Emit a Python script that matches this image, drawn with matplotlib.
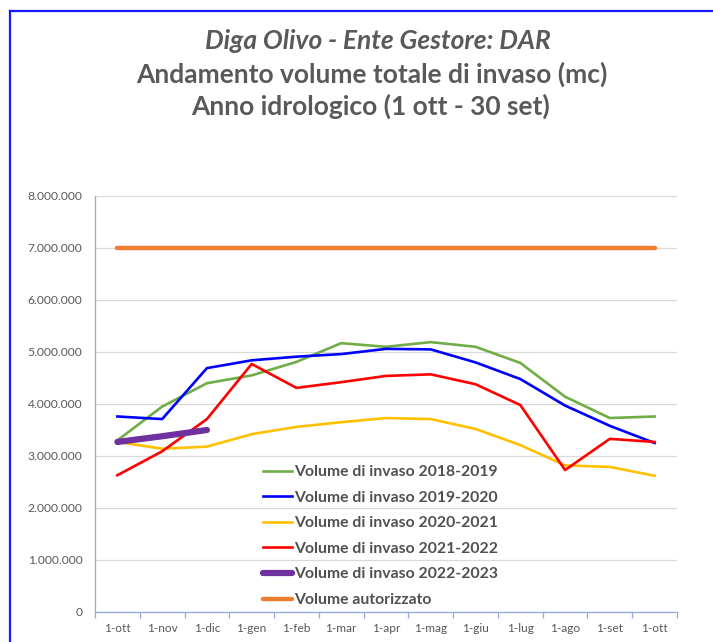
import matplotlib
matplotlib.use("Agg")
import matplotlib.pyplot as plt
from matplotlib.lines import Line2D
from matplotlib.ticker import FuncFormatter, MultipleLocator

categories = ["1-ott", "1-nov", "1-dic", "1-gen", "1-feb", "1-mar", "1-apr",
              "1-mag", "1-giu", "1-lug", "1-ago", "1-set", "1-ott"]

v_2018_2019 = [3300000, 3950000, 4400000, 4550000, 4810000, 5170000, 5100000,
               5190000, 5100000, 4790000, 4140000, 3730000, 3760000]
v_2019_2020 = [3760000, 3710000, 4690000, 4840000, 4910000, 4960000, 5060000,
               5050000, 4800000, 4480000, 3970000, 3580000, 3250000]
v_2020_2021 = [3270000, 3140000, 3180000, 3420000, 3560000, 3650000, 3730000,
               3710000, 3520000, 3210000, 2820000, 2790000, 2620000]
v_2021_2022 = [2630000, 3090000, 3710000, 4770000, 4310000, 4420000, 4540000,
               4570000, 4380000, 3980000, 2730000, 3330000, 3270000]
v_2022_2023 = [3270000, 3380000, 3500000]
v_autorizzato = [7000000] * 13

series_labels = ["Volume di invaso 2018-2019", "Volume di invaso 2019-2020",
                 "Volume di invaso 2020-2021", "Volume di invaso 2021-2022",
                 "Volume di invaso 2022-2023", "Volume autorizzato"]

title_lines = ["Diga Olivo - Ente Gestore: DAR",
               "Andamento volume totale di invaso (mc)",
               "Anno idrologico (1 ott - 30 set)"]

FONT = ["Lato", "DejaVu Sans"]
plt.rcParams["font.family"] = FONT

W, H = 713, 642
fig = plt.figure(figsize=(W / 100, H / 100), dpi=100)
fig.patch.set_facecolor("white")

# blue frame of the chart area (top and left edges)
fig.add_artist(Line2D([10 / W, 10 / W], [0, 1 - 11 / H], transform=fig.transFigure,
                      color="#1a1aff", lw=1.6))
fig.add_artist(Line2D([10 / W, 1], [1 - 11 / H, 1 - 11 / H], transform=fig.transFigure,
                      color="#1a1aff", lw=1.6))

ax = fig.add_axes([95 / W, 1 - 612 / H, (677 - 95) / W, (612 - 196) / H])
x = list(range(len(categories)))

ax.plot(x, v_autorizzato, color="#ED7D31", lw=3.2, solid_capstyle="round", zorder=2)
ax.plot(x, v_2018_2019, color="#70AD47", lw=1.9, zorder=3)
ax.plot(x, v_2019_2020, color="#0000FF", lw=1.9, zorder=3)
ax.plot(x, v_2020_2021, color="#FFC000", lw=1.9, zorder=3)
ax.plot(x, v_2021_2022, color="#FF0000", lw=1.9, zorder=3)
ax.plot(x[:len(v_2022_2023)], v_2022_2023, color="#7030A0", lw=4.5,
        solid_capstyle="round", zorder=4)

ax.set_xlim(-0.5, len(categories) - 0.5)
ax.set_ylim(0, 8000000)
ax.yaxis.set_major_locator(MultipleLocator(1000000))
ax.yaxis.set_major_formatter(FuncFormatter(lambda v, p: f"{int(v):,}".replace(",", ".")))
ax.grid(axis="y", color="#D9D9D9", lw=0.9, zorder=0)
ax.set_axisbelow(True)

ax.set_xticks(x)
ax.set_xticklabels(categories)
ax.set_xticks([i - 0.5 for i in range(len(categories) + 1)], minor=True)
ax.tick_params(axis="x", which="major", length=0, pad=8, labelsize=8.6, labelcolor="#595959")
ax.tick_params(axis="x", which="minor", length=4, color="#8FAADC", width=0.9)
ax.tick_params(axis="y", length=0, pad=9, labelsize=8.7, labelcolor="#595959")

for s in ["top", "right"]:
    ax.spines[s].set_visible(False)
for s in ["left", "bottom"]:
    ax.spines[s].set_color("#8FAADC")
    ax.spines[s].set_linewidth(0.9)

# title
ys = [41, 74, 106]
xs = [378, 372, 371]
for i, (t, xx, yy) in enumerate(zip(title_lines, xs, ys)):
    fig.text(xx / W, 1 - yy / H, t, ha="center", va="center", fontsize=19,
             color="#595959", style="italic" if i == 0 else "normal",
             weight="bold", family=FONT)

handles = [
    Line2D([], [], color="#70AD47", lw=1.9),
    Line2D([], [], color="#0000FF", lw=1.9),
    Line2D([], [], color="#FFC000", lw=1.9),
    Line2D([], [], color="#FF0000", lw=1.9),
    Line2D([], [], color="#7030A0", lw=4.5, solid_capstyle="round"),
    Line2D([], [], color="#ED7D31", lw=3.2, solid_capstyle="round"),
]
leg = fig.legend(handles, series_labels, loc="upper left",
                 bbox_to_anchor=(263 / W, 1 - 465 / H),
                 frameon=False, borderpad=0, borderaxespad=0,
                 handlelength=1.85, handletextpad=0.12, labelspacing=0.74,
                 prop={"family": FONT, "size": 11.3, "weight": "bold"})
for t in leg.get_texts():
    t.set_color("#505050")

fig.savefig("out.png", dpi=100, facecolor="white")
